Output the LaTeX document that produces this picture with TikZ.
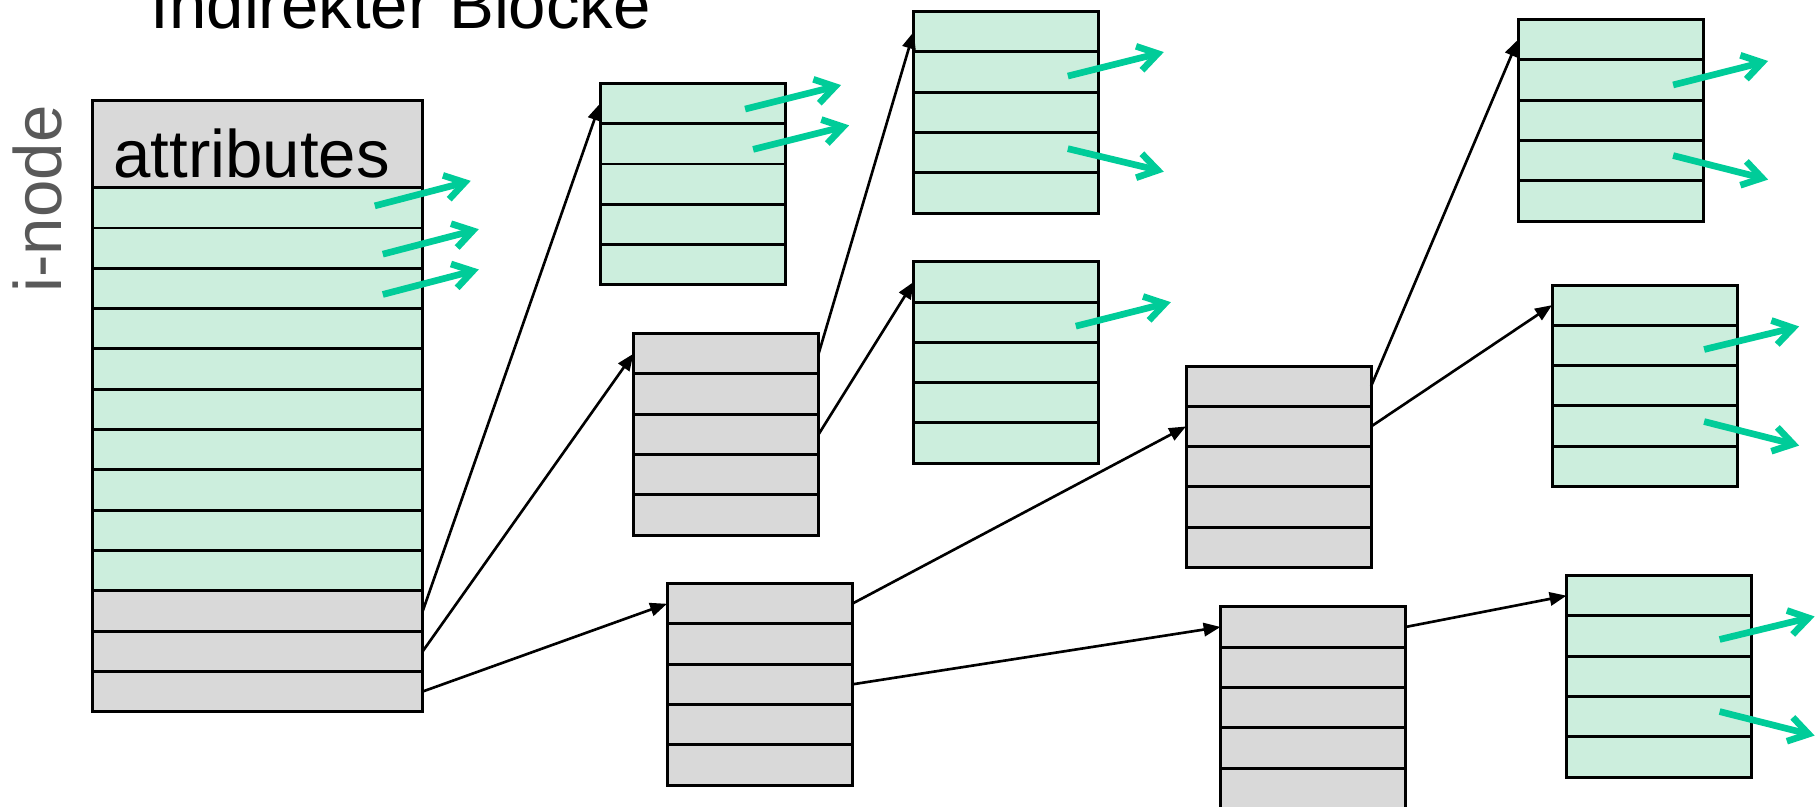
\documentclass[tikz,border=0pt]{standalone}
\usepackage{fontspec}
\setmainfont{Liberation Sans}
\usetikzlibrary{arrows.meta,calc}

\definecolor{datagreen}{HTML}{CCEEDD}
\definecolor{ptrgray}{HTML}{D9D9D9}
\definecolor{leafgreen}{HTML}{00CC99}
\definecolor{labelgray}{HTML}{595959}

\tikzset{
  slot/.style={draw, line width=0.85pt, minimum width=1.85cm, minimum height=0.403cm,
    inner sep=0pt, outer sep=0pt, anchor=north west},
  datarow/.style={slot, fill=datagreen},
  ptrrow/.style={slot, fill=ptrgray},
  link/.style={-{Triangle[length=4.8pt,width=3.8pt]}, line width=0.75pt},
  leaf/.style={-{Straight Barb[length=5.5pt,width=7pt]}, line width=1.9pt, draw=leafgreen},
}

% one disk block = 5 slots stacked
\newcommand{\diskblock}[4]{%
  \foreach \r in {1,...,5}
    \node[#4] (#1-\r) at (#2, {#3+(\r-1)*40.3}) {};
}

\begin{document}
\begin{tikzpicture}[x=0.01cm, y=-0.01cm, font=\fontsize{19.1}{22}\selectfont]

  \useasboundingbox (0,0) rectangle (1816,806);

  \node[anchor=base west, inner sep=0pt] (title) at (150,28.5) {Indirekter Blöcke};
  \node[anchor=base west, inner sep=0pt, rotate=90, text=labelgray] (inodelabel) at (61.7,293) {i-node};

  % the i-node itself
  \node[ptrrow, minimum width=3.3cm, minimum height=0.87cm, text height=0.66cm,
        text depth=0pt, text width=2.88cm, align=left] (inode-0) at (92.6,100.7) {attributes};
  \foreach \r in {1,...,10}
    \node[datarow, minimum width=3.3cm] (inode-\r) at (92.6, {187.7+(\r-1)*40.3}) {};
  \foreach \r in {11,12,13}
    \node[ptrrow, minimum width=3.3cm] (inode-\r) at (92.6, {187.7+(\r-1)*40.3}) {};

  % blocks
  \diskblock{data1}{600}{83.4}{datarow}
  \diskblock{ind1}{633.5}{333.5}{ptrrow}
  \diskblock{data2}{913.7}{11.6}{datarow}
  \diskblock{data3}{913.7}{261.7}{datarow}
  \diskblock{dind}{667}{583.6}{ptrrow}
  \diskblock{ind2}{1186}{366}{ptrrow}
  \diskblock{ind3}{1220.5}{606.8}{ptrrow}
  \diskblock{data4}{1518}{19.5}{datarow}
  \diskblock{data5}{1552}{285}{datarow}
  \diskblock{data6}{1566.5}{575.5}{datarow}

  % pointers
  \draw[link] (inode-11.east) -- (data1-1.west);
  \draw[link] (inode-12.east) -- (ind1-1.west);
  \draw[link] (inode-13.east) -- (dind-1.west);
  \draw[link] (ind1-1.east) -- (data2-1.west);
  \draw[link] (ind1-3.east) -- (data3-1.west);
  \draw[link] (dind-1.east) -- (ind2-2.west);
  \draw[link] (dind-3.east) -- (ind3-1.west);
  \draw[link] (ind2-1.east) -- (data4-1.west);
  \draw[link] (ind2-2.east) -- (data5-1.west);
  \draw[link] (ind3-1.east) -- (data6-1.west);

  % pointers to data
  \draw[leaf] ($(inode-1.east)+(-48,-2)$) -- ++(96,-25);
  \draw[leaf] ($(inode-2.east)+(-40,6)$) -- ++(96,-25);
  \draw[leaf] ($(inode-3.east)+(-40,6)$) -- ++(96,-25);
  \draw[leaf] ($(data1-1.east)+(-40,5.5)$) -- ++(96,-24);
  \draw[leaf] ($(data1-2.east)+(-32,5.5)$) -- ++(96,-24);
  \draw[leaf] ($(data2-2.east)+(-31,4)$) -- ++(96,-24);
  \draw[leaf] ($(data2-4.east)+(-31,-4)$) -- ++(96,23);
  \draw[leaf] ($(data3-2.east)+(-23,4)$) -- ++(95,-24);
  \draw[leaf] ($(data4-2.east)+(-30,5)$) -- ++(95,-24);
  \draw[leaf] ($(data4-4.east)+(-30,-5)$) -- ++(95,24);
  \draw[leaf] ($(data5-2.east)+(-33,4)$) -- ++(95,-23);
  \draw[leaf] ($(data5-4.east)+(-33,-4.5)$) -- ++(95,24);
  \draw[leaf] ($(data6-2.east)+(-32,3.5)$) -- ++(95,-23);
  \draw[leaf] ($(data6-4.east)+(-32,-5)$) -- ++(95,24);

\end{tikzpicture}
\end{document}
